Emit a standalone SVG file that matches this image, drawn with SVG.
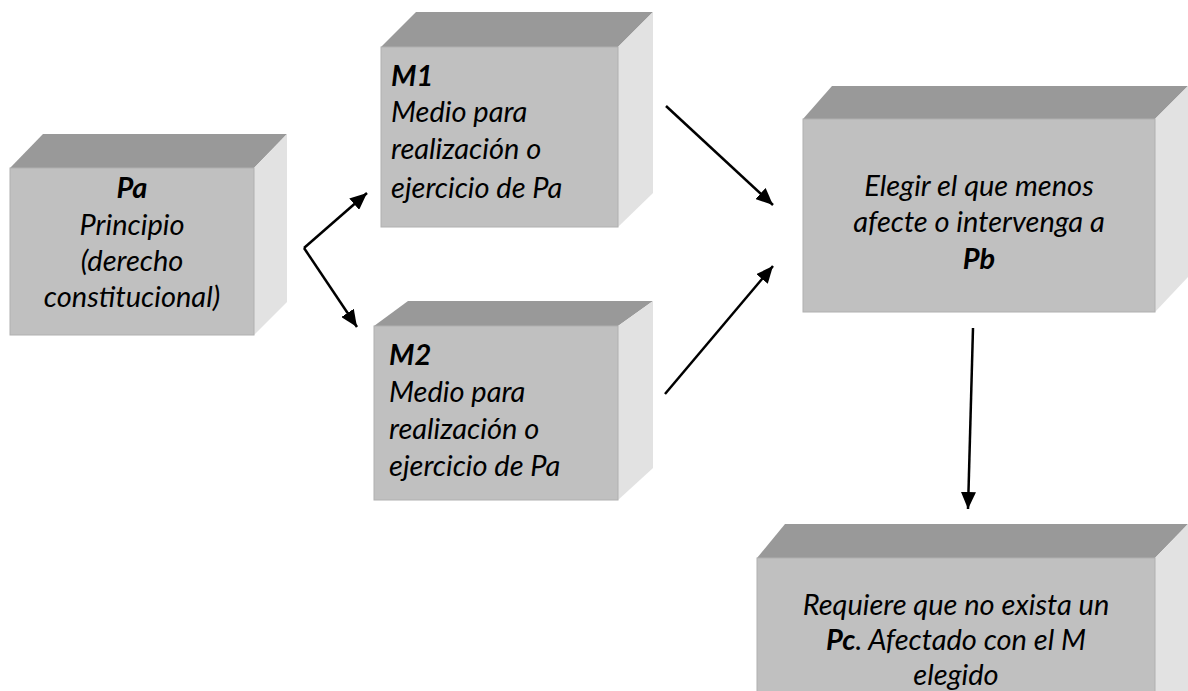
<svg xmlns="http://www.w3.org/2000/svg" width="1188" height="691" viewBox="0 0 1188 691">
<defs>
<style>
.front{fill:#c0c0c0;stroke:#b0b0b0;stroke-width:1}
.top{fill:#999999}
.side{fill:#e2e2e2}
.t{font-family:"Lato","Open Sans","DejaVu Sans",sans-serif;font-style:italic;font-size:29px;fill:#000}
.b{font-weight:bold}
.c{text-anchor:middle}
.conn{stroke:#000;stroke-width:2.5;fill:none;marker-end:url(#ah)}
</style>
<marker id="ah" markerUnits="userSpaceOnUse" markerWidth="17" markerHeight="15" refX="17" refY="7.5" orient="auto" viewBox="0 0 17 15">
<path d="M0,0 L17,7.5 L0,15 z" fill="#000"/>
</marker>
</defs>
<rect width="1188" height="691" fill="#fff"/>
<g id="node-pa">
<polygon class="top" points="10,168 43,134 287,134 254,168"/>
<polygon class="side" points="254,168 287,134 287,302 254,335"/>
<rect class="front" x="10" y="168" width="244" height="167"/>
<text class="t c b" x="132" y="198">Pa</text>
<text class="t c" x="132" y="235">Principio</text>
<text class="t c" x="132" y="271">(derecho</text>
<text class="t c" x="132" y="307">constitucional)</text>
</g>
<g id="node-m1">
<polygon class="top" points="381,47 416,12 653,12 618,47"/>
<polygon class="side" points="618,47 653,12 653,193 618,227"/>
<rect class="front" x="381" y="47" width="237" height="180"/>
<text class="t b" x="391" y="86">M1</text>
<text class="t" x="391" y="122">Medio para</text>
<text class="t" x="391" y="159">realización o</text>
<text class="t" x="391" y="198">ejercicio de Pa</text>
</g>
<g id="node-m2">
<polygon class="top" points="374,326 408,301 653,301 618,326"/>
<polygon class="side" points="618,326 653,301 653,468 618,500"/>
<rect class="front" x="374" y="326" width="244" height="174"/>
<text class="t b" x="389" y="365">M2</text>
<text class="t" x="389" y="402">Medio para</text>
<text class="t" x="389" y="439">realización o</text>
<text class="t" x="389" y="476">ejercicio de Pa</text>
</g>
<g id="node-pb">
<polygon class="top" points="803,119 832,86 1188,86 1155,119"/>
<polygon class="side" points="1155,119 1188,86 1188,277 1155,312"/>
<rect class="front" x="803" y="119" width="352" height="193"/>
<text class="t c" x="979" y="196">Elegir el que menos</text>
<text class="t c" x="979" y="232">afecte o intervenga a</text>
<text class="t c b" x="979" y="269">Pb</text>
</g>
<g id="node-pc">
<polygon class="top" points="757,558 785,524 1188,524 1155,558"/>
<polygon class="side" points="1155,558 1188,524 1188,691 1155,691"/>
<rect class="front" x="757" y="558" width="398" height="140"/>
<text class="t c" x="956" y="615">Requiere que no exista un</text>
<text class="t c" x="956" y="650"><tspan class="b">Pc</tspan>. Afectado con el M</text>
<text class="t c" x="956" y="685">elegido</text>
</g>
<g id="connectors">
<path class="conn" d="M304,248 L367,193"/>
<path class="conn" d="M304,248 L357,327"/>
<path class="conn" d="M666,106 L773,205"/>
<path class="conn" d="M665,394 L773,266"/>
<path class="conn" d="M973,328 L968,509"/>
</g>
</svg>
